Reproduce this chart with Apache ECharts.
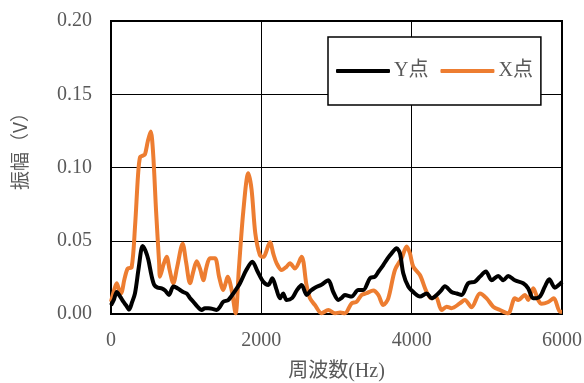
<!DOCTYPE html>
<html>
<head>
<meta charset="utf-8">
<script src="https://cdn.jsdelivr.net/npm/echarts@6/dist/echarts.min.js"></script>
<style>html,body{margin:0;padding:0;background:#fff}#c{width:584px;height:383px}</style>
</head>
<body>
<div id="c"></div>
<script>
const seriesNames = ['Y点', 'X点'];
const xTicks = [0, 2000, 4000, 6000];
const yTicks = [0, 0.05, 0.10, 0.15, 0.20];

const yFreq = [0,40,76,120,164,200,240,280,319,370,421,460,497,540,576,620,674,720,771,829,870,918,960,1007,1050,1095,1150,1206,1250,1295,1350,1406,1450,1494,1561,1640,1716,1800,1880,1950,2026,2093,2146,2200,2248,2290,2336,2412,2470,2536,2603,2660,2713,2800,2891,2957,3024,3070,3112,3201,3290,3356,3445,3511,3560,3622,3680,3733,3800,3844,3888,3955,4043,4110,4199,4265,4332,4390,4442,4531,4600,4664,4752,4841,4908,4988,5063,5151,5220,5284,5373,5484,5550,5617,5706,5772,5830,5905,5960,6000];
const yAmp = [0.006,0.010,0.015,0.012,0.0084,0.006,0.003,0.008,0.014,0.032,0.0464,0.043,0.037,0.026,0.0198,0.018,0.0175,0.016,0.013,0.0187,0.018,0.0164,0.015,0.014,0.011,0.0084,0.005,0.0027,0.004,0.0039,0.0035,0.0027,0.005,0.0084,0.0096,0.015,0.021,0.030,0.0357,0.029,0.022,0.0198,0.0244,0.017,0.0107,0.014,0.0096,0.011,0.016,0.0198,0.013,0.016,0.018,0.020,0.023,0.015,0.0096,0.011,0.013,0.0119,0.0164,0.0164,0.0244,0.0255,0.029,0.0334,0.038,0.0414,0.0448,0.0414,0.0278,0.0187,0.014,0.0119,0.014,0.0107,0.013,0.016,0.019,0.015,0.014,0.013,0.021,0.022,0.0255,0.029,0.023,0.026,0.023,0.026,0.023,0.021,0.0175,0.0107,0.0119,0.0187,0.0237,0.018,0.020,0.022];

const xFreq = [0,40,76,105,133,180,222,275,320,360,386,420,452,490,528,560,600,640,652,700,740,780,829,880,953,1000,1051,1100,1140,1190,1228,1270,1317,1383,1440,1494,1530,1552,1605,1658,1700,1760,1826,1870,1920,1982,2026,2115,2160,2204,2270,2330,2381,2447,2536,2600,2647,2713,2802,2891,2980,3050,3112,3201,3268,3334,3400,3489,3556,3622,3689,3777,3866,3933,3977,4021,4110,4199,4265,4320,4398,4465,4531,4642,4708,4797,4908,4997,5085,5174,5284,5373,5417,5506,5550,5617,5683,5728,5810,5891,5972,6000];
const xAmp = [0.0084,0.016,0.021,0.017,0.014,0.024,0.031,0.032,0.060,0.095,0.107,0.108,0.109,0.118,0.1245,0.110,0.070,0.035,0.0255,0.034,0.039,0.030,0.021,0.032,0.048,0.035,0.021,0.030,0.036,0.030,0.023,0.032,0.038,0.038,0.025,0.0164,0.022,0.0255,0.0164,0.0005,0.030,0.070,0.096,0.085,0.055,0.040,0.039,0.049,0.041,0.0346,0.030,0.032,0.0346,0.031,0.039,0.020,0.0107,0.0061,0.0005,0.0027,0.0005,0.001,0.0005,0.0073,0.0084,0.013,0.0142,0.016,0.013,0.0061,0.0107,0.030,0.038,0.046,0.0414,0.0323,0.0266,0.015,0.0107,0.012,0.0027,0.005,0.004,0.0073,0.0096,0.0046,0.014,0.0107,0.005,0.0027,0.0005,0.0107,0.0096,0.013,0.0096,0.0175,0.0096,0.007,0.008,0.0107,0.0016,0.0016];

const FONT = '"Liberation Serif", "Noto Sans CJK JP", serif';
const GREY = '#595959';
const chart = echarts.init(document.getElementById('c'));
chart.setOption({
  animation: false,
  backgroundColor: '#fff',
  grid: { left: 111, right: 22, top: 21, bottom: 69, show: true, borderColor: '#000', borderWidth: 2, backgroundColor: 'transparent', outerBoundsMode: 'none', containLabel: false },
  legend: {
    left: 328, top: 37,
    padding: [24, 8, 24, 8],
    backgroundColor: '#fff', borderColor: '#000', borderWidth: 1.5,
    itemWidth: 54, itemHeight: 4, itemGap: 12,
    icon: 'roundRect',
    textStyle: { fontFamily: FONT, fontSize: 20, color: GREY, padding: [0, 0, 0, -1] },
    data: seriesNames
  },
  xAxis: {
    type: 'value', min: xTicks[0], max: xTicks[xTicks.length - 1], interval: 2000,
    name: '周波数(Hz)', nameLocation: 'middle', nameGap: 48,
    nameTextStyle: { fontFamily: FONT, fontSize: 20, color: GREY },
    axisLine: { show: true, lineStyle: { color: '#000', width: 2 } },
    axisTick: { show: false },
    axisLabel: { fontFamily: FONT, fontSize: 20, color: GREY, margin: 17, formatter: v => String(v) },
    splitLine: { show: true, lineStyle: { color: '#000', width: 1 } }
  },
  yAxis: {
    type: 'value', min: yTicks[0], max: yTicks[yTicks.length - 1], interval: 0.05,
    axisLine: { show: true, lineStyle: { color: '#000', width: 2 } },
    axisTick: { show: false },
    axisLabel: { fontFamily: FONT, fontSize: 20, color: GREY, margin: 19, formatter: v => v.toFixed(2) },
    splitLine: { show: true, lineStyle: { color: '#000', width: 1 } }
  },
  graphic: [{
    type: 'text', x: 20, y: 190, rotation: Math.PI / 2,
    style: { text: '振幅（V）', fontSize: 19, fontFamily: '"Noto Sans CJK JP", sans-serif', fill: GREY, textAlign: 'left', textVerticalAlign: 'middle' }
  }],
  series: [
    { name: seriesNames[0], type: 'line', showSymbol: false, smooth: 0.3, z: 3,
      lineStyle: { color: '#000', width: 4 }, itemStyle: { color: '#000' },
      data: yFreq.map((f, i) => [f, yAmp[i]]) },
    { name: seriesNames[1], type: 'line', showSymbol: false, smooth: 0.3, z: 2,
      lineStyle: { color: '#ED7D31', width: 4 }, itemStyle: { color: '#ED7D31' },
      data: xFreq.map((f, i) => [f, xAmp[i]]) }
  ]
});
</script>
</body>
</html>
